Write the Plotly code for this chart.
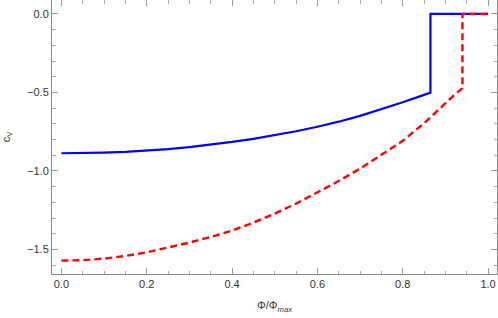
import plotly.graph_objects as go

# Phi/Phi_max sample positions and c_V values
x_blue = [0.0, 0.05, 0.1, 0.15, 0.2, 0.25, 0.3, 0.35, 0.4, 0.45, 0.5, 0.55, 0.6,
          0.65, 0.7, 0.75, 0.8, 0.85, 0.865, 0.865, 1.0]
cv_blue = [-0.887, -0.886, -0.883, -0.878, -0.871, -0.861, -0.848, -0.833, -0.815,
           -0.795, -0.772, -0.747, -0.718, -0.686, -0.649, -0.608, -0.562, -0.515,
           -0.501, 0.0, 0.0]

x_red = [0.0, 0.05, 0.1, 0.15, 0.2, 0.25, 0.3, 0.35, 0.4, 0.45, 0.5, 0.55, 0.6,
         0.65, 0.7, 0.75, 0.8, 0.85, 0.9, 0.92, 0.94, 0.94, 1.0]
cv_red = [-1.571, -1.568, -1.558, -1.541, -1.518, -1.489, -1.456, -1.420, -1.380,
          -1.329, -1.272, -1.208, -1.138, -1.064, -0.985, -0.899, -0.808, -0.696,
          -0.567, -0.518, -0.473, 0.0, 0.0]

x_ticks = [0.0, 0.2, 0.4, 0.6, 0.8, 1.0]
x_tick_labels = ["0.0", "0.2", "0.4", "0.6", "0.8", "1.0"]
y_ticks = [0.0, -0.5, -1.0, -1.5]
y_tick_labels = ["0.0", "\u22120.5", "\u22121.0", "\u22121.5"]

FONT = "Liberation Sans, Arial, sans-serif"

fig = go.Figure()
fig.add_trace(go.Scatter(x=x_blue, y=cv_blue, mode="lines",
                         line=dict(color="#0000ff", width=2.2), showlegend=False))
fig.add_trace(go.Scatter(x=x_red, y=cv_red, mode="lines",
                         line=dict(color="#ff0000", width=2.4, dash="7px,4px"),
                         showlegend=False))

axis_common = dict(
    showline=True, linecolor="#888888", linewidth=1, mirror="allticks",
    ticks="inside", ticklen=6, tickcolor="#999999", tickwidth=1,
    showgrid=False, zeroline=False,
    tickfont=dict(family=FONT, size=11, color="#333333"),
)

fig.update_xaxes(
    range=[-0.022, 1.021], tickvals=x_ticks, ticktext=x_tick_labels,
    minor=dict(dtick=0.05, ticks="inside", ticklen=3.5, tickcolor="#aaaaaa", showgrid=False),
    title=dict(text="\u03a6/\u03a6<sub><i>max</i></sub>", standoff=12,
               font=dict(family=FONT, size=11, color="#333333")),
    **axis_common,
)
fig.update_yaxes(
    range=[-1.656, 0.089], tickvals=y_ticks, ticktext=y_tick_labels,
    minor=dict(dtick=0.1, ticks="inside", ticklen=3.5, tickcolor="#aaaaaa", showgrid=False),
    title=dict(text="c<sub>V</sub>", standoff=14,
               font=dict(family=FONT, size=11, color="#333333")),
    **axis_common,
)

fig.update_layout(
    width=498, height=318,
    margin=dict(l=52, r=1, t=0, b=44),
    plot_bgcolor="white", paper_bgcolor="white",
)

fig.write_html("out.html",
               config={"displayModeBar": False},
               post_script="document.body.style.margin='0';document.body.style.overflow='hidden';")
